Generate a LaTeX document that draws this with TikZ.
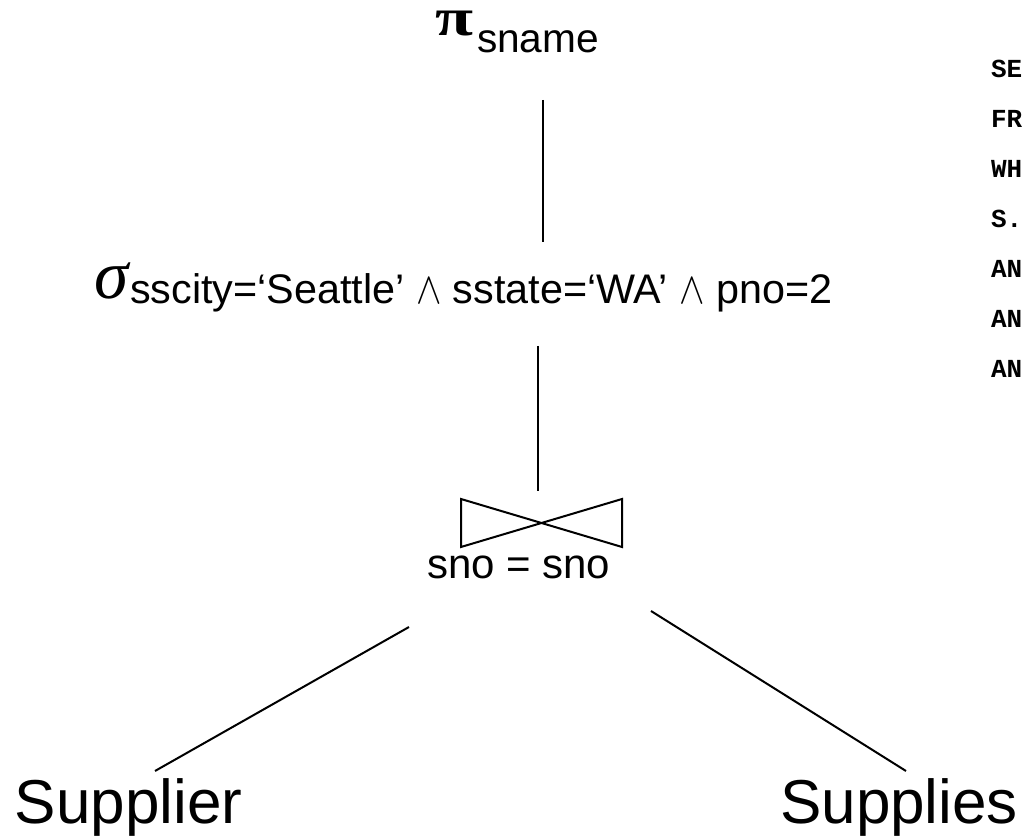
\documentclass[tikz,border=0pt]{standalone}
\usepackage{fontspec}
\usepackage{graphicx}
\setmainfont{Liberation Sans}
\newfontfamily\sqlfont{Liberation Mono}
\newfontfamily\greekfont{Liberation Serif}
\newcommand{\andsym}{\scalebox{1.15}[1.35]{$\wedge$}}
\begin{document}
\begin{tikzpicture}[x=0.75pt,y=-0.75pt,
  lbl/.style={inner sep=0pt,outer sep=0pt},
  sub/.style={lbl,font=\fontsize{31}{36}\selectfont},
  rel/.style={lbl,font=\fontsize{46.5}{54}\selectfont},
  sql/.style={lbl,anchor=base west,font=\sqlfont\bfseries\fontsize{19.5}{24}\selectfont},
  edge/.style={draw=black,line width=1.5pt}]
\path[use as bounding box,clip] (0,0) rectangle (1022,837);
\fill[white] (0,0) rectangle (1022,837);
% projection
\node[lbl,anchor=base west,font=\greekfont\bfseries\fontsize{40}{40}\selectfont] (pi) at (435,36) {\scalebox{1.3}[1]{π}};
\node[sub,anchor=base west,font=\fontsize{30.5}{36}\selectfont] (sname) at (477,53) {sname};
% selection
\node[lbl,anchor=base east,font=\greekfont\itshape\fontsize{52}{60}\selectfont] (sigma) at (129,299) {σ};
\node[sub,anchor=base west] (cond) at (130,304) {sscity=‘Seattle’ \andsym{} sstate=‘WA’ \andsym{} pno=2};
% join
\coordinate (jc) at (541.5,523);
\draw[edge,line join=miter] (461,499) -- (622,547) -- (622,499) -- (461,547) -- cycle;
\node[lbl,anchor=base west,font=\fontsize{31.5}{36}\selectfont] (jlabel) at (427,579) {sno = sno};
% relations
\node[rel,anchor=base west] (supplier) at (15,824) {Supplier};
\node[rel,anchor=base east] (supplies) at (1018,824) {Supplies};
% connectors
\coordinate (p1) at (543,100);
\coordinate (p2) at (543,242);
\coordinate (s1) at (538,346);
\coordinate (s2) at (538,491);
\coordinate (j1) at (409,627);
\coordinate (l1) at (155,771);
\coordinate (j2) at (651,611);
\coordinate (r1) at (906,771);
\draw[edge] (p1) -- (p2);
\draw[edge] (s1) -- (s2);
\draw[edge] (j1) -- (l1);
\draw[edge] (j2) -- (r1);
% SQL text (cut off at the right edge)
\node[sql] (q1) at (991,78) {SELECT sname};
\node[sql] (q2) at (991,128) {FROM Supplier S, Supplies U};
\node[sql] (q3) at (991,178) {WHERE};
\node[sql] (q4) at (991,228) {S.sno = U.sno};
\node[sql] (q5) at (991,278) {AND scity='Seattle'};
\node[sql] (q6) at (991,328) {AND sstate='WA'};
\node[sql] (q7) at (991,378) {AND pno=2};
\end{tikzpicture}
\end{document}
